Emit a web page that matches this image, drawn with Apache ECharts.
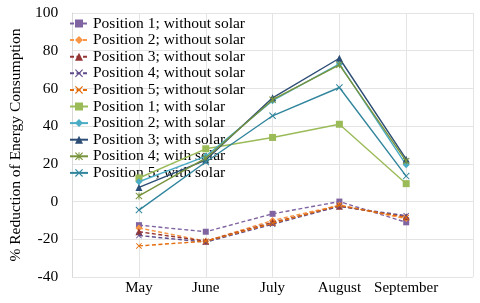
<!DOCTYPE html>
<html>
<head>
<meta charset="utf-8">
<script src="https://cdn.jsdelivr.net/npm/echarts@6/dist/echarts.min.js"></script>
<style>html,body{margin:0;padding:0;background:#fff;}#c{width:480px;height:303px;}</style>
</head>
<body>
<div id="c"></div>
<script>
var months = ['May', 'June', 'July', 'August', 'September'];
var yTicks = [-40, -20, 0, 20, 40, 60, 80, 100];
var seriesNames = [
  'Position 1; without solar', 'Position 2; without solar', 'Position 3; without solar',
  'Position 4; without solar', 'Position 5; without solar',
  'Position 1; with solar', 'Position 2; with solar', 'Position 3; with solar',
  'Position 4; with solar', 'Position 5; with solar'
];
var p1NoSolar = [-12.5, -16, -6.5, 0, -11];
var p2NoSolar = [-14, -21, -10, -2, -9];
var p3NoSolar = [-16, -21, -11, -2.5, -8];
var p4NoSolar = [-18, -21.5, -12, -2.5, -7.5];
var p5NoSolar = [-23.5, -21, -11.5, -2, -8.5];
var p1Solar = [12.5, 28, 34, 41, 9.5];
var p2Solar = [10.5, 24, 53.5, 73, 19.5];
var p3Solar = [7.5, 22, 55, 76, 22.5];
var p4Solar = [3, 23, 54, 72.5, 21.5];
var p5Solar = [-4.5, 21, 45.5, 60.5, 13.5];

var values = [p1NoSolar, p2NoSolar, p3NoSolar, p4NoSolar, p5NoSolar, p1Solar, p2Solar, p3Solar, p4Solar, p5Solar];
var colors = ['#8064A2', '#F79646', '#943634', '#5F4B8B', '#E46C0A', '#9BBB59', '#4BACC6', '#2C4D75', '#77933C', '#31859C'];
var X = 'path://M0,1L1,0L5,4L9,0L10,1L6,5L10,9L9,10L5,6L1,10L0,9L4,5Z';
var STAR = 'path://M0,1L1,0L4.4,3.4L4.4,0L5.6,0L5.6,3.4L9,0L10,1L6,5L10,9L9,10L5.6,6.6L5.6,10L4.4,10L4.4,6.6L1,10L0,9L4,5Z';
var symbols = ['rect', 'diamond', 'triangle', X, X, 'rect', 'diamond', 'triangle', STAR, X];
var sizes = [6, 7, 7, 6, 6, 7, 7, 7, 7, 7];

var series = values.map(function (vals, i) {
  return {
    name: seriesNames[i],
    type: 'line',
    data: vals.map(function (v, j) { return [j + 1, v]; }),
    symbol: symbols[i],
    symbolSize: sizes[i],
    showAllSymbol: true,
    itemStyle: { color: colors[i] },
    lineStyle: { color: colors[i], width: 1.4, type: i < 5 ? [4, 2.5] : 'solid' },
    emphasis: { disabled: true },
    animation: false,
    z: 2 + i
  };
});

var chart = echarts.init(document.getElementById('c'), null, { renderer: 'canvas' });
chart.setOption({
  backgroundColor: '#fff',
  animation: false,
  textStyle: { fontFamily: 'Liberation Serif' },
  grid: { left: 65, right: 7, top: 13, bottom: 26, containLabel: false },
  legend: {
    orient: 'vertical',
    left: 69,
    top: 15.5,
    itemWidth: 18,
    itemHeight: 10,
    itemGap: 0.6,
    textStyle: { fontFamily: 'Liberation Serif', fontSize: 15.5, color: '#000' },
    padding: 0,
    data: seriesNames
  },
  xAxis: {
    type: 'value',
    min: 0,
    max: 6,
    interval: 1,
    axisLine: { show: false },
    axisTick: { show: false },
    splitLine: { show: true, lineStyle: { color: '#E4E4E4', width: 1 } },
    axisLabel: {
      fontFamily: 'Liberation Serif', fontSize: 15, color: '#000', margin: 4,
      formatter: function (v) { return (v >= 1 && v <= 5) ? months[v - 1] : ''; }
    }
  },
  yAxis: {
    type: 'value',
    min: yTicks[0],
    max: yTicks[yTicks.length - 1],
    interval: 20,
    name: '% Reduction of Energy Consumption',
    nameLocation: 'middle',
    nameGap: 37,
    nameRotate: 90,
    nameTextStyle: { fontFamily: 'Liberation Serif', fontSize: 15.5, color: '#000' },
    axisLine: { show: true, lineStyle: { color: '#D9D9D9' } },
    axisTick: { show: false },
    splitLine: { show: true, lineStyle: { color: '#E4E4E4', width: 1 } },
    axisLabel: { fontFamily: 'Liberation Serif', fontSize: 15.5, color: '#000', margin: 14 }
  },
  series: series
});
</script>
</body>
</html>
